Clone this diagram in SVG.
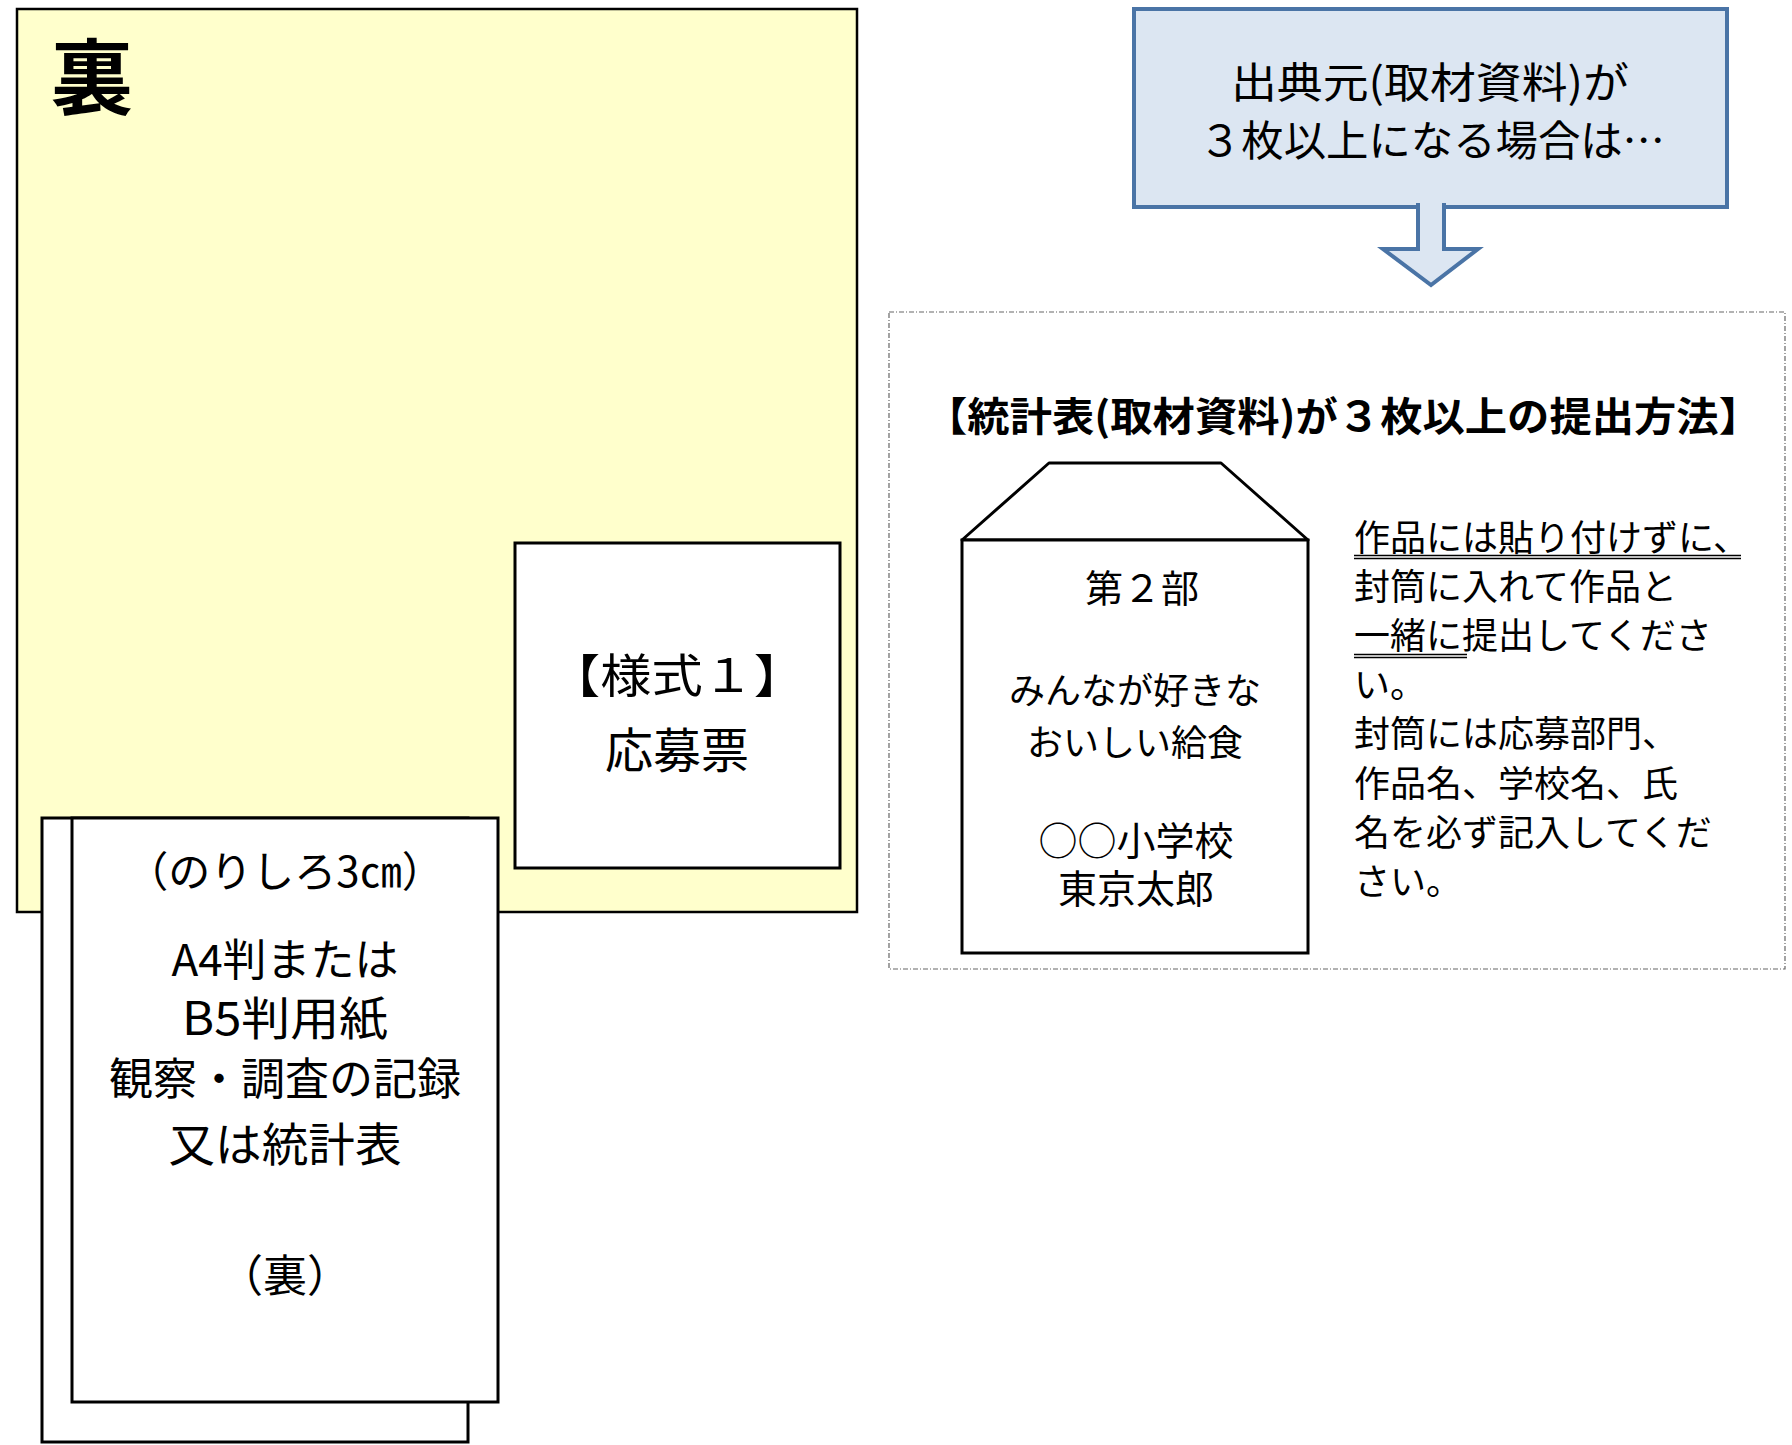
<svg xmlns="http://www.w3.org/2000/svg" width="1792" height="1445" viewBox="0 0 1792 1445">
<style>
text{font-family:"Noto Sans CJK JP","Noto Sans",sans-serif;fill:#000;}
.c{text-anchor:middle;}
.box{fill:#fff;stroke:#000;stroke-width:3;}
.blue{fill:#DCE6F2;stroke:#4A74A6;stroke-width:4;}
</style>
<rect width="1792" height="1445" fill="#fff"/>
<g id="back-sheet">
<rect x="17" y="9" width="840" height="903" fill="#FFFFCC" stroke="#000" stroke-width="2.5"/>
<text x="51" y="108" font-size="82" font-weight="bold">裏</text>
</g>
<g id="form1">
<rect class="box" x="515" y="543" width="325" height="325"/>
<text class="c" x="677" y="692" font-size="46" textLength="256" lengthAdjust="spacingAndGlyphs">【様式１】</text>
<text class="c" x="677" y="768" font-size="48">応募票</text>
</g>
<g id="pages">
<rect class="box" x="42" y="818" width="426" height="624"/>
<rect class="box" x="72" y="818" width="426" height="584"/>
<text class="c" x="285" y="887" font-size="42">（のりしろ3㎝）</text>
<text class="c" x="285" y="976" font-size="44">A4判または</text>
<text class="c" x="285" y="1035" font-size="46" textLength="206" lengthAdjust="spacingAndGlyphs">B5判用紙</text>
<text class="c" x="285" y="1095" font-size="44">観察・調査の記録</text>
<text class="c" x="285" y="1161" font-size="46" textLength="233" lengthAdjust="spacingAndGlyphs">又は統計表</text>
<text class="c" x="285" y="1292" font-size="44">（裏）</text>
</g>
<g id="condition">
<rect class="blue" x="1134" y="9" width="593" height="198"/>
<text class="c" x="1430" y="98" font-size="42" textLength="398" lengthAdjust="spacingAndGlyphs">出典元(取材資料)が</text>
<text class="c" x="1432" y="156" font-size="42" textLength="466" lengthAdjust="spacingAndGlyphs">３枚以上になる場合は…</text>
</g>
<g id="connectors">
<path class="blue" d="M1418,203 L1418,249 L1383,249 L1431,285 L1478,249 L1444,249 L1444,203"/>
</g>
<g id="method">
<rect x="889" y="312" width="896" height="657" fill="none" stroke="#666" stroke-width="1.2" stroke-dasharray="5 2 1 2"/>
<text class="c" x="1343" y="431" font-size="40" font-weight="bold" textLength="836" lengthAdjust="spacingAndGlyphs">【統計表(取材資料)が３枚以上の提出方法】</text>
</g>
<g id="envelope">
<path d="M962,540 L1049,463 L1221,463 L1308,540 Z" fill="#fff" stroke="#000" stroke-width="3" stroke-linejoin="round"/>
<rect class="box" x="962" y="540" width="346" height="413"/>
<text class="c" x="1142" y="602" font-size="38">第２部</text>
<text class="c" x="1135" y="704" font-size="36">みんなが好きな</text>
<text class="c" x="1135" y="756" font-size="36">おいしい給食</text>
<text class="c" x="1136" y="855" font-size="39">○○小学校</text>
<text class="c" x="1136" y="903" font-size="39">東京太郎</text>
</g>
<g id="instructions">
<text x="1354" y="551" font-size="36">作品には貼り付けずに、</text>
<text x="1354" y="600" font-size="36">封筒に入れて作品と</text>
<text x="1354" y="649" font-size="36">一緒に提出してくださ</text>
<text x="1354" y="698" font-size="36">い。</text>
<text x="1354" y="747" font-size="36">封筒には応募部門、</text>
<text x="1354" y="797" font-size="36">作品名、学校名、氏</text>
<text x="1354" y="846" font-size="36">名を必ず記入してくだ</text>
<text x="1354" y="895" font-size="36">さい。</text>
<g stroke="#000" stroke-width="1.3">
<line x1="1354" y1="555.5" x2="1741" y2="555.5"/>
<line x1="1354" y1="558.5" x2="1741" y2="558.5"/>
<line x1="1354" y1="654.5" x2="1467" y2="654.5"/>
<line x1="1354" y1="657.5" x2="1467" y2="657.5"/>
</g>
</g>
</svg>
